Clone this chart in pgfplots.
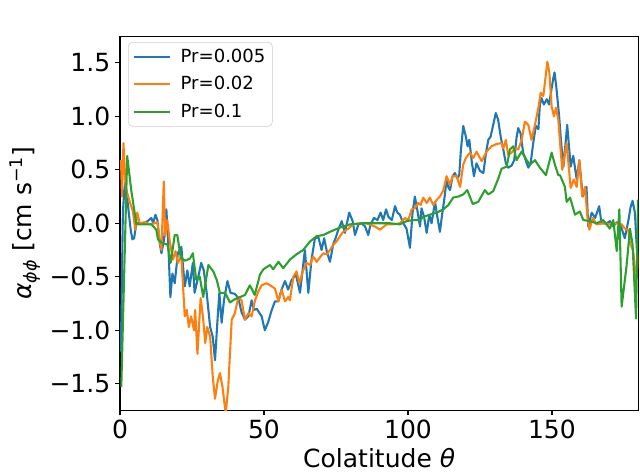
\documentclass[border=0pt]{standalone}
\usepackage{fontspec}
\setmainfont{DejaVu Sans}
\usepackage{pgfplots}
\pgfplotsset{compat=1.18}
\definecolor{c1}{HTML}{1F77B4}
\definecolor{c2}{HTML}{FF7F0E}
\definecolor{c3}{HTML}{2CA02C}
\newcommand{\bigfnt}{\fontsize{18}{21}\selectfont}
\begin{document}
\begin{tikzpicture}
\useasboundingbox (-86.4pt,-45.0pt) rectangle (374.4pt,295.56pt);
\begin{axis}[
  at={(0,0)}, anchor=south west,
  scale only axis, width=373.2pt, height=269.6pt,
  xmin=0, xmax=180, ymin=-1.75, ymax=1.75,
  xtick={0,50,100,150},
  ytick={-1.5,-1,-0.5,0,0.5,1,1.5},
  yticklabels={−1.5,−1.0,−0.5,0.0,0.5,1.0,1.5},
  /pgf/number format/assume math mode=true,
  tick align=outside, tick pos=left,
  major tick length=3.5pt,
  every tick/.style={black, line width=0.8pt},
  axis line style={line width=0.8pt},
  ticklabel style={font=\bigfnt},
  label style={font=\bigfnt},
  xlabel={Colatitude \textit{θ}},
  ylabel={\textit{α}\textsubscript{\textit{ϕϕ}} [cm s\textsuperscript{−1}]},
  legend cell align=left,
  legend image code/.code={\draw[#1] (0cm,0cm) -- (0.92cm,0cm);},
  legend style={at={(0.0155,0.984)}, anchor=north west, draw=black!20, rounded corners=3pt,
    fill=white, fill opacity=0.8, text opacity=1, font=\fontsize{13}{15}\selectfont,
    row sep=4.5pt, inner sep=3pt, column sep=5pt},
  every axis plot/.append style={line width=1.5pt, line join=round},
]
\addplot[c1] coordinates {
(0.3,-1.2) (1.0,0.1) (1.5,0.31) (1.9,0.38) (2.8,0.16) (3.7,-0.06) (4.3,-0.15) (4.9,-0.14) (5.7,0.0) (7.4,0.0) (9.1,0.01) (10.9,0.05) (11.5,0.0) (12.3,0.08) (13.0,0.03) (13.8,-0.19) (14.4,-0.28) (15.3,-0.15) (16.1,0.13) (16.7,-0.15) (17.5,-0.69) (18.2,-0.47) (19.0,-0.56) (20.1,-0.28) (21.3,-0.22) (22.5,-0.59) (23.4,-0.44) (24.2,-0.59) (25.3,-0.37) (25.9,-0.65) (27.1,-0.51) (28.2,-0.37) (29.1,-0.44) (30.1,-0.65) (31.3,-0.97) (32.2,-1.06) (33.0,-1.28) (33.8,-0.93) (34.5,-0.65) (35.3,-0.93) (36.1,-0.72) (37.3,-0.54) (38.4,-0.65) (39.9,-0.66) (41.1,-0.70) (42.2,-0.83) (43.4,-0.90) (44.6,-0.87) (45.7,-0.72) (46.5,-0.81) (47.5,-0.80) (49.2,-0.87) (50.3,-1.0) (51.5,-0.92) (52.7,-0.81) (53.8,-0.73) (55.0,-0.73) (56.1,-0.62) (57.3,-0.54) (58.4,-0.62) (59.6,-0.53) (61.1,-0.48) (62.5,-0.65) (63.4,-0.44) (64.2,-0.25) (65.4,-0.65) (66.5,-0.34) (67.7,-0.14) (68.9,-0.13) (70.0,-0.25) (70.9,-0.14) (71.8,-0.26) (72.9,-0.36) (74.1,-0.19) (75.0,-0.13) (75.8,-0.06) (77.0,0.02) (78.1,-0.09) (79.6,0.10) (80.8,0.02) (81.6,-0.11) (82.8,-0.01) (83.9,0.0) (85.1,-0.03) (86.2,-0.11) (87.0,-0.01) (88.2,0.05) (89.4,0.03) (90.5,0.10) (91.4,0.03) (92.4,0.13) (93.2,0.06) (94.4,0.03) (95.5,0.16) (96.3,0.10) (97.2,0.08) (98.4,0.0) (99.5,-0.05) (100.7,-0.23) (101.6,0.10) (102.4,0.25) (103.2,0.13) (104.2,-0.03) (104.7,0.14) (105.6,0.06) (106.5,-0.09) (107.4,0.08) (108.2,0.0) (109.4,0.20) (110.2,0.06) (111.1,-0.08) (111.7,0.05) (112.5,0.2) (113.4,0.40) (114.0,0.34) (114.6,0.31) (115.5,0.44) (116.3,0.47) (117.1,0.42) (117.8,0.45) (118.4,0.69) (119.2,0.91) (120.1,0.81) (120.7,0.72) (121.3,0.78) (122.1,0.59) (122.9,0.44) (123.8,0.56) (125.0,0.49) (126.2,0.47) (127.1,0.66) (127.9,0.78) (128.7,0.81) (129.6,0.92) (130.5,1.03) (131.3,0.97) (132.2,0.81) (133.1,0.69) (134.0,0.56) (134.8,0.52) (136.0,0.54) (136.9,0.59) (137.7,0.80) (138.3,0.89) (139.1,0.84) (140.0,0.66) (141.0,0.58) (141.8,0.52) (142.6,0.56) (143.5,0.75) (144.4,0.91) (145.3,0.88) (145.8,1.11) (146.4,1.17) (147.2,1.11) (148.2,1.16) (149.0,1.11) (149.7,1.23) (150.5,1.36) (150.9,1.41) (151.5,1.28) (152.0,1.14) (152.5,1.0) (153.2,0.75) (154.0,0.53) (155.3,0.92) (156.5,0.53) (157.4,0.63) (158.6,0.41) (159.5,0.59) (160.7,0.25) (162.0,0.34) (162.6,-0.03) (163.8,0.10) (165.0,0.05) (166.4,0.16) (167.2,0.0) (169.0,0.0) (170.1,0.02) (171.3,-0.03) (172.5,0.01) (173.6,0.0) (175.3,-0.14) (176.5,0.02) (177.3,0.15) (178.0,0.21) (178.8,0.10) (179.5,-0.25) (180,-0.3)
};
\addlegendentry{Pr=0.005}
\addplot[c2] coordinates {
(0.35,0.59) (0.7,0.25) (1.2,0.75) (1.9,0.37) (2.2,0.31) (3.4,0.20) (4.5,0.11) (5.3,-0.06) (6.0,0.10) (6.8,0.0) (8.6,0.01) (10.3,-0.01) (12.0,0.0) (13.0,0.01) (13.8,-0.17) (14.4,-0.25) (15.2,0.39) (15.7,-0.12) (16.4,0.03) (17.3,-0.17) (18.4,-0.34) (19.3,-0.26) (20.1,-0.37) (21.3,-0.31) (22.5,-0.87) (23.2,-0.81) (23.9,-0.97) (24.7,-0.87) (25.7,-1.0) (26.1,-0.81) (26.9,-1.22) (28.0,-0.70) (28.8,-0.87) (29.6,-1.12) (30.3,-0.97) (31.3,-1.06) (32.2,-1.43) (33.0,-1.64) (33.9,-1.48) (34.7,-1.40) (35.6,-1.53) (36.7,-1.78) (37.6,-1.53) (38.8,-0.90) (39.9,-0.84) (41.1,-0.69) (42.2,-0.72) (43.4,-0.90) (44.6,-0.84) (45.7,-0.87) (46.9,-0.72) (48.0,-0.64) (49.2,-0.58) (50.9,-0.56) (52.7,-0.59) (53.8,-0.61) (55.0,-0.73) (56.1,-0.62) (57.3,-0.73) (58.4,-0.69) (59.0,-0.72) (60.2,-0.50) (61.3,-0.45) (62.3,-0.56) (63.6,-0.44) (64.8,-0.37) (66.0,-0.39) (67.1,-0.31) (68.3,-0.36) (69.4,-0.32) (70.6,-0.28) (71.8,-0.29) (72.9,-0.25) (74.1,-0.20) (75.2,-0.17) (76.4,-0.12) (77.5,-0.08) (79.3,-0.05) (81.0,-0.01) (83.3,0.0) (85.6,0.0) (88.5,-0.03) (90.3,-0.06) (92.6,-0.01) (94.9,-0.01) (97.2,0.0) (99.0,0.05) (100.1,0.03) (101.3,0.13) (102.4,0.14) (103.6,0.19) (104.4,0.17) (105.3,0.24) (106.5,0.19) (107.6,0.24) (108.8,0.17) (110.0,0.22) (111.1,0.25) (112.3,0.31) (113.4,0.44) (114.6,0.36) (115.5,0.44) (116.9,0.44) (118.1,0.34) (119.2,0.55) (120.1,0.61) (121.5,0.66) (122.7,0.61) (123.8,0.67) (125.6,0.58) (127.3,0.67) (129.0,0.72) (130.7,0.74) (132.5,0.75) (133.1,0.70) (134.0,0.78) (134.8,0.64) (136.0,0.66) (137.2,0.70) (138.3,0.69) (139.5,0.78) (140.6,0.95) (141.8,0.92) (142.9,0.78) (144.1,0.92) (145.3,1.08) (146.1,1.22) (147.0,1.19) (147.9,1.39) (148.4,1.51) (149.1,1.41) (149.9,1.09) (150.7,1.0) (151.4,1.08) (152.2,0.97) (153.0,0.69) (153.6,0.5) (155.1,0.75) (156.5,0.33) (157.6,0.41) (158.6,0.34) (159.5,0.59) (160.5,0.25) (161.5,0.34) (162.3,0.06) (163.0,-0.06) (164.2,0.05) (165.5,-0.01) (167.8,0.0) (170.1,-0.01) (172.5,0.0) (174.2,-0.01) (175.3,-0.05) (176.5,-0.06) (177.1,-0.19) (178.2,-0.25) (179.2,-0.53) (180,-0.3)
};
\addlegendentry{Pr=0.02}
\addplot[c3] coordinates {
(0.45,-1.53) (2.5,0.63) (3.9,0.31) (5.7,-0.01) (10.9,-0.01) (12.6,-0.06) (13.2,-0.15) (14.3,-0.18) (16.5,-0.2) (17.6,-0.37) (19.0,-0.11) (19.9,-0.11) (21.1,-0.32) (22.5,-0.35) (24.3,-0.33) (25.3,-0.28) (26.5,-0.53) (27.7,-0.50) (28.9,-0.69) (30.7,-0.39) (32.4,-0.45) (33.6,-0.53) (34.7,-0.65) (36.5,-0.65) (38.2,-0.74) (39.9,-0.71) (41.7,-0.69) (43.4,-0.67) (45.1,-0.58) (46.8,-0.67) (48.6,-0.48) (49.8,-0.43) (52.1,-0.39) (53.2,-0.43) (55.0,-0.36) (56.7,-0.42) (59.0,-0.34) (61.3,-0.29) (63.6,-0.25) (66.0,-0.17) (68.3,-0.12) (70.6,-0.11) (72.9,-0.08) (76.4,-0.04) (79.9,-0.01) (84.5,0.0) (93.8,0.0) (97.2,-0.01) (99.5,0.02) (101.9,0.03) (104.2,0.03) (105.3,0.06) (107.6,0.08) (110.0,0.10) (112.3,0.13) (114.0,0.17) (115.7,0.24) (117.5,0.25) (119.2,0.27) (120.6,0.31) (122.5,0.18) (124.4,0.20) (126.7,0.31) (127.9,0.27) (129.6,0.30) (131.4,0.42) (132.5,0.51) (134.3,0.53) (135.4,0.69) (136.6,0.72) (137.7,0.59) (139.5,0.67) (141.2,0.59) (142.4,0.55) (144.1,0.59) (145.8,0.52) (147.9,0.45) (149.9,0.66) (151.0,0.55) (152.2,0.45) (152.8,0.45) (154.5,0.34) (155.1,0.20) (156.3,0.24) (158.0,0.08) (159.7,0.11) (160.9,0.03) (163.2,0.02) (165.5,0.0) (167.8,0.03) (170.1,-0.05) (171.3,0.03) (172.5,-0.26) (173.4,0.13) (174.2,-0.78) (175.9,-0.40) (177.1,-0.05) (178.0,-0.2) (179.2,-0.89) (179.9,0.22)
};
\addlegendentry{Pr=0.1}
\node[anchor=base west, font=\bigfnt, inner sep=0pt] at ([yshift=2.2pt]rel axis cs:0,1) {1e6};
\end{axis}
\end{tikzpicture}
\end{document}
